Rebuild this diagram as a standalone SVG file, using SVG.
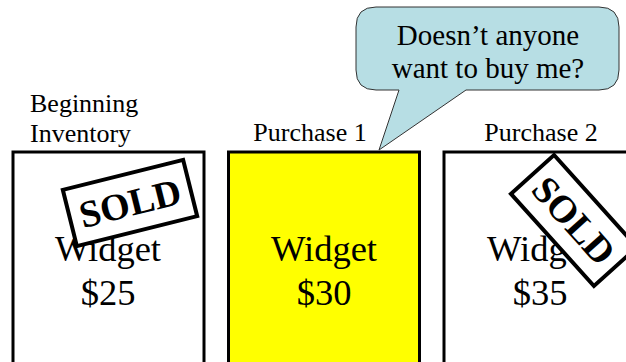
<svg xmlns="http://www.w3.org/2000/svg" width="626" height="362" viewBox="0 0 626 362">
<style>
.lbl{font-family:"Liberation Serif","Times New Roman",serif;font-size:26px;fill:#000}
.big{font-family:"Liberation Serif","Times New Roman",serif;font-size:36.5px;fill:#000;text-anchor:middle}
.box{stroke:#000;stroke-width:3}
.stamp rect{fill:#fff;stroke:#000;stroke-width:4}
.stamp text{font-family:"Liberation Serif","Times New Roman",serif;font-weight:bold;font-size:38px;text-anchor:middle;fill:#000}
.call{font-family:"Liberation Serif","Times New Roman",serif;font-size:29px;fill:#000;text-anchor:middle}
</style>
<rect width="626" height="362" fill="#fff"/>
<defs>
<g id="stampShape" class="stamp">
<rect x="-62" y="-29" width="124" height="58"/>
<text x="0" y="13">SOLD</text>
</g>
</defs>
<g id="labels">
<text class="lbl" x="30" y="112">Beginning</text>
<text class="lbl" x="30" y="142">Inventory</text>
<text class="lbl" x="310" y="141" text-anchor="middle">Purchase 1</text>
<text class="lbl" x="541" y="141" text-anchor="middle">Purchase 2</text>
</g>
<g id="box1">
<rect class="box" x="13" y="152" width="191" height="220" fill="#fff"/>
<text class="big" x="108" y="261">Widget</text>
<text class="big" x="108" y="305">$25</text>
</g>
<g id="box2">
<rect class="box" x="228.5" y="152" width="191" height="220" fill="#ffff00"/>
<text class="big" x="324" y="261">Widget</text>
<text class="big" x="324" y="305">$30</text>
</g>
<g id="box3">
<rect class="box" x="444" y="152" width="191" height="220" fill="#fff"/>
<text class="big" x="540" y="261">Widget</text>
<text class="big" x="540" y="305">$35</text>
</g>
<g id="stamp1">
<use href="#stampShape" transform="translate(130,203) rotate(-14)"/>
</g>
<g id="stamp2">
<use href="#stampShape" transform="translate(574,220.5) rotate(48)"/>
</g>
<g id="callout">
<path d="M376,7 H599 Q619,7 619,27 V70 Q619,90 599,90 H466 L379,150 L399,90 H376 Q356,90 356,70 V27 Q356,7 376,7 Z" fill="#b7dee4" stroke="#333" stroke-width="1"/>
<text class="call" x="488" y="45">Doesn’t anyone</text>
<text class="call" x="488" y="78">want to buy me?</text>
</g>
<g id="connectors"></g>
</svg>
